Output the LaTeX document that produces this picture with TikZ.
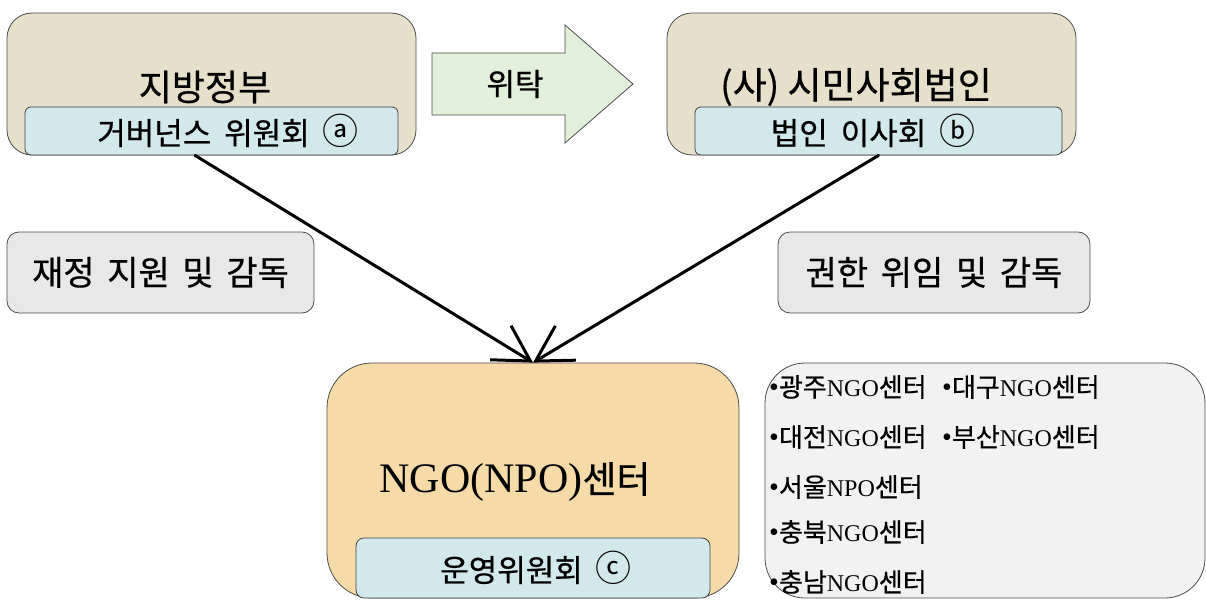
\documentclass[tikz,border=0pt]{standalone}
\usepackage{fontspec}
\setmainfont{Liberation Serif}
\newfontfamily\kr{Noto Sans CJK KR}[FakeBold=0.6]
\newfontfamily\krthin{Noto Sans CJK KR}
\usetikzlibrary{arrows.meta,calc}
\newcommand\fs[1]{\fontsize{#1}{#1}\selectfont}
\newcommand\krl[1]{{\kr\fs{26}#1}}
\newcommand\encl[2]{{\krthin\fs{#1}#2}}
\newcommand\blt{{\fs{28}•}}
\definecolor{beige}{HTML}{E6DFC9}
\definecolor{paleblue}{HTML}{D2E9EC}
\definecolor{palegreen}{HTML}{E2EFDA}
\definecolor{labelgray}{HTML}{E8E8E8}
\definecolor{tan}{HTML}{F6DBA8}
\definecolor{listgray}{HTML}{F2F2F2}
\begin{document}
\begin{tikzpicture}[x=1pt,y=-1pt,
  outerbox/.style={draw=black!70, line width=0.8pt, rounded corners=25pt, inner sep=0pt},
  innerbox/.style={draw=black!75, line width=0.8pt, fill=paleblue, rounded corners=6pt, inner sep=0pt},
  labelbox/.style={draw=black!70, line width=0.8pt, fill=labelgray, rounded corners=12pt, inner sep=0pt},
  krtext/.style={inner sep=0pt, font=\kr\fs{#1}},
  listitem/.style={anchor=west, inner sep=0pt, font=\fs{24}},
  conn/.style={line width=3pt, line cap=round,
    -{Straight Barb[length=35pt,width=40pt,line width=3pt]}}
]
\useasboundingbox (0,0) rectangle (1206,599);

% local government
\node[outerbox, fill=beige, minimum width=409pt, minimum height=142pt] (gov) at (211.5,84) {};
\node[innerbox, minimum width=373pt, minimum height=48pt] (govc) at (211.5,131) {};
\node[krtext=36] (govt) at (205,87) {지방정부};
\node[krtext=31] (govct) at (228,131) {거버넌스\hspace{6pt} 위원회\hspace{6pt} \encl{36}{ⓐ}};

% delegation arrow
\draw[draw=black!70, line width=0.8pt, fill=palegreen]
  (432,53) -- (565,53) -- (565,25) -- (633,84) -- (565,143) -- (565,115) -- (432,115) -- cycle;
\node[krtext=31] (deleg) at (515,84) {위탁};

% civil society corporation
\node[outerbox, fill=beige, minimum width=409pt, minimum height=142pt] (corp) at (871.5,84) {};
\node[innerbox, minimum width=367pt, minimum height=48pt] (corpc) at (878.5,131) {};
\node[krtext=37] (corpt) at (856,87) {(사) 시민사회법인};
\node[krtext=31] (corpct) at (873,131) {법인\hspace{6pt} 이사회\hspace{6pt} \encl{36}{ⓑ}};

% relation labels
\node[labelbox, minimum width=307pt, minimum height=81pt] (fund) at (160.5,272.5) {};
\node[krtext=34] at (fund) {재정\hspace{5pt} 지원\hspace{5pt} 및\hspace{5pt} 감독};
\node[labelbox, minimum width=312pt, minimum height=81pt] (auth) at (934,272.5) {};
\node[krtext=34] at (auth) {권한\hspace{5pt} 위임\hspace{5pt} 및\hspace{5pt} 감독};

% NGO centre
\node[outerbox, fill=tan, rounded corners=45pt, minimum width=412pt, minimum height=235pt] (ngo) at (533,480.5) {};
\node[inner sep=0pt] (ngot) at (515,482) {\fs{42}NGO(NPO){\kr\fs{37}센터}};
\node[innerbox, rounded corners=8pt, minimum width=354pt, minimum height=60pt] (ngoc) at (533,568) {};
\node[krtext=31] (ngoct) at (536,568) {운영위원회\hspace{6pt} \encl{36}{ⓒ}};

% connectors
\draw[conn] ($(govc.south west)!0.456!(govc.south east)$) -- (ngo.north);
\draw[conn] (corpc.south) -- (ngo.north);

% list of centres
\node[draw=black!70, line width=0.8pt, fill=listgray, rounded corners=40pt, inner sep=0pt,
  minimum width=440pt, minimum height=235pt] (list) at (985,480.5) {};
\node[listitem] (c1) at (769,387) {\blt\krl{광주}NGO\krl{센터}};
\node[listitem] (c2) at (942,387) {\blt\krl{대구}NGO\krl{센터}};
\node[listitem] (c3) at (769,437) {\blt\krl{대전}NGO\krl{센터}};
\node[listitem] (c4) at (942,437) {\blt\krl{부산}NGO\krl{센터}};
\node[listitem] (c5) at (769,487) {\blt\krl{서울}NPO\krl{센터}};
\node[listitem] (c6) at (769,532) {\blt\krl{충북}NGO\krl{센터}};
\node[listitem] (c7) at (769,582) {\blt\krl{충남}NGO\krl{센터}};
\end{tikzpicture}
\end{document}
